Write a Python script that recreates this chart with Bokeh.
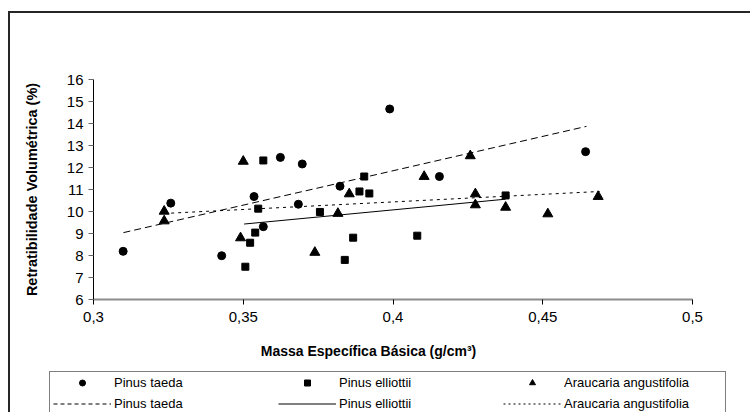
from bokeh.plotting import figure
from bokeh.models import Legend, LegendItem, FixedTicker, Label
from bokeh.embed import file_html
from bokeh.resources import INLINE

# ---- data ----
taeda_x = [0.3099, 0.3258, 0.3428, 0.3536, 0.3567, 0.3624, 0.3684, 0.3697, 0.3823, 0.3989, 0.4155, 0.4643]
taeda_y = [8.19, 10.38, 7.99, 10.68, 9.31, 12.46, 10.33, 12.16, 11.15, 14.66, 11.59, 12.72]

elliottii_x = [0.3507, 0.3523, 0.3540, 0.3550, 0.3567, 0.3756, 0.3839, 0.3867, 0.3888, 0.3904, 0.3921, 0.4081, 0.4376]
elliottii_y = [7.49, 8.58, 9.04, 10.13, 12.32, 9.98, 7.80, 8.81, 10.91, 11.59, 10.82, 8.90, 10.73]

araucaria_x = [0.3236, 0.3236, 0.3491, 0.3500, 0.3739, 0.3816, 0.3854, 0.4104, 0.4258, 0.4275, 0.4275, 0.4376, 0.4517, 0.4685]
araucaria_y = [10.01, 9.57, 8.80, 12.28, 8.14, 9.91, 10.80, 11.59, 12.53, 10.80, 10.30, 10.19, 9.89, 10.68]

# trend lines (end points)
trend_taeda_x = [0.3100, 0.4646]
trend_taeda_y = [9.04, 13.87]
trend_elliottii_x = [0.3503, 0.4376]
trend_elliottii_y = [9.43, 10.56]
trend_araucaria_x = [0.3236, 0.4690]
trend_araucaria_y = [9.91, 10.91]

x_ticks = [0.3, 0.35, 0.4, 0.45, 0.5]
x_tick_labels = ["0,3", "0,35", "0,4", "0,45", "0,5"]
y_ticks = [6, 7, 8, 9, 10, 11, 12, 13, 14, 15, 16]

series_names = ["Pinus taeda", "Pinus elliottii", "Araucaria angustifolia"]
x_title = "Massa Específica Básica (g/cm³)"
y_title = "Retratibilidade Volumétrica (%)"

TITLE_FONT = "Liberation Sans"
TICK_FONT = "Liberation Sans"
FRAME = "2px solid #262626"

# ---------------- main chart ----------------
p = figure(width=742, height=327, x_range=(0.3, 0.5), y_range=(6, 16),
           output_backend="svg", toolbar_location=None,
           min_border_left=83, min_border_right=60, min_border_top=66, min_border_bottom=41)
p.styles = {"border-top": FRAME, "border-left": FRAME, "margin-top": "11px", "margin-left": "8px"}
p.outline_line_color = None
p.grid.visible = False

p.xaxis.ticker = FixedTicker(ticks=x_ticks)
p.xaxis.major_label_overrides = {t: l for t, l in zip(x_ticks, x_tick_labels)}
p.yaxis.ticker = FixedTicker(ticks=y_ticks)
for ax in (p.xaxis, p.yaxis):
    ax.minor_tick_line_color = None
    ax.major_tick_in = 0
    ax.major_tick_out = 5
    ax.major_label_text_font = TICK_FONT
    ax.major_label_text_font_size = "15px"
    ax.major_label_text_color = "black"
p.xaxis.axis_line_color = "#8c8c8c"
p.xaxis.axis_line_width = 2
p.xaxis.major_tick_line_color = "black"
p.xaxis.major_label_standoff = 7
p.yaxis.axis_line_color = "black"
p.yaxis.major_tick_line_color = "#666666"
p.yaxis.major_label_standoff = 5
p.yaxis.axis_label = y_title
p.yaxis.axis_label_text_font = TITLE_FONT
p.yaxis.axis_label_text_font_style = "bold"
p.yaxis.axis_label_text_font_size = "14.5px"
p.yaxis.axis_label_text_color = "black"
p.yaxis.axis_label_standoff = 24

p.scatter(taeda_x, taeda_y, marker="circle", size=8, color="black")
p.scatter(elliottii_x, elliottii_y, marker="square", size=7, color="black")
p.scatter(araucaria_x, araucaria_y, marker="triangle", size=10, color="black")
p.line(trend_taeda_x, trend_taeda_y, line_color="black", line_width=1, line_dash="7 4")
p.line(trend_elliottii_x, trend_elliottii_y, line_color="black", line_width=1)
p.line(trend_araucaria_x, trend_araucaria_y, line_color="black", line_width=1, line_dash="3 4")

# ---------------- x title + legend strip ----------------
q = figure(width=742, height=74, x_range=(0.3, 0.5), y_range=(6, 16),
           output_backend="svg", toolbar_location=None,
           x_axis_type=None, y_axis_type=None, min_border=0)
q.styles = {"border-left": FRAME, "margin-left": "8px"}
q.outline_line_color = None
q.grid.visible = False

q.add_layout(Label(x=358, y=62, x_units="screen", y_units="screen", text=x_title,
                   text_font=TITLE_FONT, text_font_style="bold", text_font_size="14px",
                   text_align="center", text_baseline="middle", text_color="black"))

# legend entries (renderers hidden; they only supply the legend glyphs)
k_t = q.scatter(taeda_x, taeda_y, marker="circle", size=7, color="black", visible=False)
k_e = q.scatter(elliottii_x, elliottii_y, marker="square", size=6, color="black", visible=False)
k_a = q.scatter(araucaria_x, araucaria_y, marker="triangle", size=8, color="black", visible=False)
m_t = q.line(trend_taeda_x, trend_taeda_y, line_color="black", line_width=1, line_dash="4 3", visible=False)
m_e = q.line(trend_elliottii_x, trend_elliottii_y, line_color="black", line_width=1, visible=False)
m_a = q.line(trend_araucaria_x, trend_araucaria_y, line_color="black", line_width=1, line_dash="2 3", visible=False)

legend = Legend(items=[
    LegendItem(label=series_names[0], renderers=[k_t]),
    LegendItem(label=series_names[1], renderers=[k_e]),
    LegendItem(label=series_names[2], renderers=[k_a]),
    LegendItem(label=series_names[0], renderers=[m_t]),
    LegendItem(label=series_names[1], renderers=[m_e]),
    LegendItem(label=series_names[2], renderers=[m_a]),
], location=(39, -3), orientation="horizontal", ncols=3,
    glyph_width=58, glyph_height=15, label_standoff=3, spacing=6, padding=3, margin=0,
    label_width=158, label_text_font=TICK_FONT, label_text_font_size="13px",
    label_text_color="black", border_line_color="black", border_line_width=1,
    background_fill_color="white", background_fill_alpha=1,
    inactive_fill_alpha=0)
q.add_layout(legend)

open("out.html", "w").write(file_html([p, q], INLINE))
